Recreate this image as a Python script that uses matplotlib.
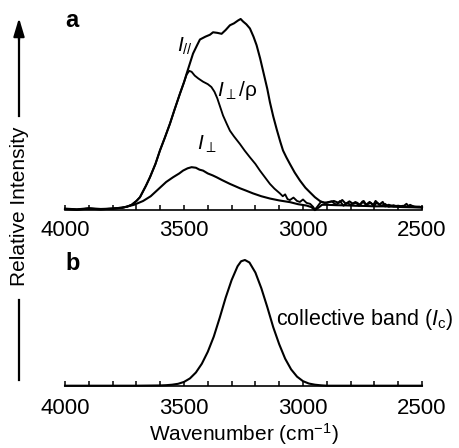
import matplotlib
matplotlib.use("Agg")
import matplotlib.pyplot as plt
from matplotlib.lines import Line2D

plt.rcParams['font.family'] = ['Liberation Sans', 'DejaVu Sans']
plt.rcParams['mathtext.fontset'] = 'custom'
plt.rcParams['mathtext.rm'] = 'Liberation Sans'
plt.rcParams['mathtext.it'] = 'Liberation Sans:italic'
plt.rcParams['mathtext.fallback'] = 'stixsans'

# ---------------- data ----------------
# panel a : parallel-polarised spectrum
wn_par = [4000, 3950, 3900, 3850, 3800, 3760, 3740, 3720, 3700, 3685, 3660, 3643, 3620, 3601,
          3580, 3559, 3540, 3517, 3500, 3489, 3475, 3462, 3445, 3433, 3410, 3391, 3378, 3360,
          3342, 3325, 3307, 3290, 3273, 3262, 3252, 3238, 3223, 3208, 3195, 3180, 3165, 3150,
          3139, 3125, 3110, 3095, 3084, 3070, 3055, 3035, 3013, 2990, 2971, 2950, 2929, 2910,
          2890, 2870, 2850, 2835, 2820, 2805, 2790, 2775, 2760, 2745, 2735, 2720, 2705, 2695,
          2680, 2665, 2655, 2640, 2620, 2600, 2580, 2565, 2555, 2540, 2520, 2500]
I_par = [0.010, 0.006, 0.012, 0.008, 0.010, 0.015, 0.020, 0.030, 0.050, 0.070, 0.130, 0.175, 0.245, 0.316,
         0.385, 0.457, 0.530, 0.615, 0.675, 0.720, 0.775, 0.826, 0.870, 0.900, 0.915, 0.925, 0.938, 0.935,
         0.930, 0.950, 0.975, 0.985, 1.000, 1.008, 0.995, 0.980, 0.958, 0.915, 0.870, 0.800, 0.720, 0.640,
         0.570, 0.495, 0.425, 0.360, 0.316, 0.280, 0.245, 0.200, 0.158, 0.120, 0.096, 0.070, 0.050, 0.040,
         0.045, 0.050, 0.040, 0.055, 0.035, 0.048, 0.035, 0.042, 0.030, 0.050, 0.030, 0.045, 0.028, 0.050,
         0.030, 0.045, 0.022, 0.030, 0.022, 0.025, 0.020, 0.035, 0.018, 0.022, 0.020, 0.018]

# panel a : perpendicular / depolarisation ratio
wn_pr = [4000, 3950, 3900, 3850, 3800, 3760, 3740, 3720, 3700, 3685, 3660, 3643, 3620, 3601,
         3580, 3559, 3540, 3517, 3500, 3489, 3478, 3468, 3455, 3440, 3420, 3400, 3385, 3372,
         3360, 3348, 3336, 3320, 3307, 3290, 3265, 3245, 3223, 3200, 3181, 3160, 3139, 3120,
         3097, 3085, 3075, 3065, 3055, 3040, 3025, 3013, 3000, 2985, 2970, 2958, 2950, 2940,
         2925, 2900, 2880, 2860, 2845, 2830, 2815, 2800, 2780, 2765, 2750, 2735, 2715, 2700,
         2690, 2670, 2655, 2640, 2620, 2600, 2580, 2565, 2550, 2530, 2510, 2500]
I_pr = [0.008, 0.005, 0.010, 0.006, 0.010, 0.014, 0.020, 0.030, 0.050, 0.070, 0.130, 0.175, 0.245, 0.316,
        0.385, 0.457, 0.530, 0.615, 0.675, 0.715, 0.735, 0.730, 0.710, 0.695, 0.678, 0.665, 0.650, 0.625,
        0.590, 0.545, 0.500, 0.455, 0.420, 0.390, 0.350, 0.315, 0.280, 0.245, 0.210, 0.175, 0.140, 0.115,
        0.090, 0.075, 0.085, 0.060, 0.055, 0.068, 0.050, 0.045, 0.058, 0.040, 0.035, 0.020, 0.005, 0.020,
        0.045, 0.040, 0.048, 0.030, 0.050, 0.025, 0.040, 0.030, 0.045, 0.025, 0.048, 0.030, 0.040, 0.025,
        0.042, 0.025, 0.035, 0.020, 0.028, 0.020, 0.025, 0.018, 0.030, 0.018, 0.020, 0.015]

# panel a : perpendicular-polarised spectrum
wn_perp = [4000, 3950, 3900, 3850, 3800, 3760, 3741, 3710, 3672, 3640, 3601, 3575, 3546, 3520,
           3504, 3485, 3468, 3450, 3435, 3420, 3400, 3380, 3363, 3340, 3307, 3285, 3265, 3240,
           3210, 3175, 3139, 3100, 3055, 3020, 2985, 2965, 2950, 2935, 2920, 2900, 2860, 2820,
           2780, 2740, 2700, 2660, 2620, 2580, 2540, 2500]
I_perp = [0.008, 0.004, 0.010, 0.006, 0.010, 0.015, 0.020, 0.030, 0.050, 0.075, 0.120, 0.150, 0.175, 0.195,
          0.210, 0.222, 0.228, 0.225, 0.215, 0.210, 0.195, 0.185, 0.175, 0.160, 0.140, 0.128, 0.117, 0.105,
          0.090, 0.075, 0.063, 0.053, 0.044, 0.033, 0.026, 0.018, 0.002, 0.015, 0.030, 0.030, 0.028, 0.027,
          0.025, 0.024, 0.022, 0.022, 0.020, 0.018, 0.017, 0.015]

# panel b : collective band
wn_c = [4000, 3700, 3600, 3575, 3550, 3525, 3500, 3475, 3450, 3425, 3400, 3375, 3350, 3325, 3300,
        3275, 3260, 3244, 3225, 3200, 3175, 3150, 3125, 3100, 3075, 3050, 3025, 3000, 2975, 2950,
        2925, 2900, 2500]
I_c = [0.0, 0.0, 0.002, 0.004, 0.008, 0.015, 0.030, 0.058, 0.105, 0.175, 0.27, 0.39, 0.54, 0.70, 0.84,
       0.95, 0.99, 1.0, 0.98, 0.90, 0.775, 0.625, 0.465, 0.33, 0.215, 0.13, 0.072, 0.036, 0.017, 0.008,
       0.003, 0.0, 0.0]

xticks = [4000, 3500, 3000, 2500]
xtick_labels = ['4000', '3500', '3000', '2500']

# ---------------- figure ----------------
W, H = 460, 448
fig = plt.figure(figsize=(W / 100, H / 100), dpi=100)

def px_axes(left, right, top, bottom):
    return fig.add_axes([left / W, 1 - bottom / H, (right - left) / W, (bottom - top) / H])

axa = px_axes(65, 422, 10, 210.5)
axb = px_axes(65, 422, 250, 385.7)

lw = 1.5
axa.plot(wn_par, I_par, color='black', lw=lw, clip_on=False)
axa.plot(wn_pr, I_pr, color='black', lw=lw * 0.9, clip_on=False)
axa.plot(wn_perp, I_perp, color='black', lw=lw, clip_on=False)
axa.set_ylim(0, 200.5 / 190)

axb.plot(wn_c, I_c, color='black', lw=lw, clip_on=False)
axb.set_ylim(0, 135.7 / 125.7)

for ax, pad in ((axa, 6.5), (axb, 9.0)):
    ax.set_xlim(4000, 2500)
    for s in ('top', 'right', 'left'):
        ax.spines[s].set_visible(False)
    ax.spines['bottom'].set_linewidth(1.2)
    ax.set_yticks([])
    ax.set_xticks(xticks)
    ax.set_xticklabels(xtick_labels)
    ax.set_xticks(range(3900, 2500, -100), minor=True)
    ax.tick_params(axis='x', which='both', direction='in', length=3.5, width=1.1,
                   labelsize=16, pad=pad)
    ax.patch.set_visible(False)

# curve labels
axa.text(3528, 0.835, r'$I_{//}$', fontsize=15, ha='left', va='baseline')
axa.text(3363, 0.600, r'$I_{\perp}$/ρ', fontsize=15, ha='left', va='baseline')
axa.text(3447, 0.322, r'$I_{\perp}$', fontsize=15, ha='left', va='baseline')

axb.text(3112, 0.48, r'collective band ($I_{\mathrm{c}}$)', fontsize=15.5, ha='left', va='baseline')

# panel letters
fig.text(65 / W, 1 - 27 / H, 'a', fontsize=17, fontweight='bold', va='baseline', ha='left')
fig.text(65 / W, 1 - 270 / H, 'b', fontsize=17, fontweight='bold', va='baseline', ha='left')

# x label
fig.text(243.5 / W, 1 - 441 / H, r'Wavenumber (cm$^{-1}$)', fontsize=15, ha='center', va='baseline')

# y label with arrow
fig.text(19.5 / W, 1 - 206.5 / H, 'Relative Intensity', fontsize=15, rotation=90,
         ha='center', va='center')
fig.add_artist(Line2D([19 / W, 19 / W], [1 - 380 / H, 1 - 300 / H], color='black', lw=1.6,
                      transform=fig.transFigure))
fig.add_artist(Line2D([19 / W, 19 / W], [1 - 116 / H, 1 - 28 / H], color='black', lw=1.6,
                      transform=fig.transFigure))
fig.patches.append(matplotlib.patches.FancyArrowPatch(
    (19 / W, 1 - 40 / H), (19 / W, 1 - 18 / H), transform=fig.transFigure,
    arrowstyle='-|>,head_length=1.0,head_width=0.3', mutation_scale=11,
    color='black', lw=1.6, shrinkA=0, shrinkB=0))

fig.savefig('out.png', dpi=100)
